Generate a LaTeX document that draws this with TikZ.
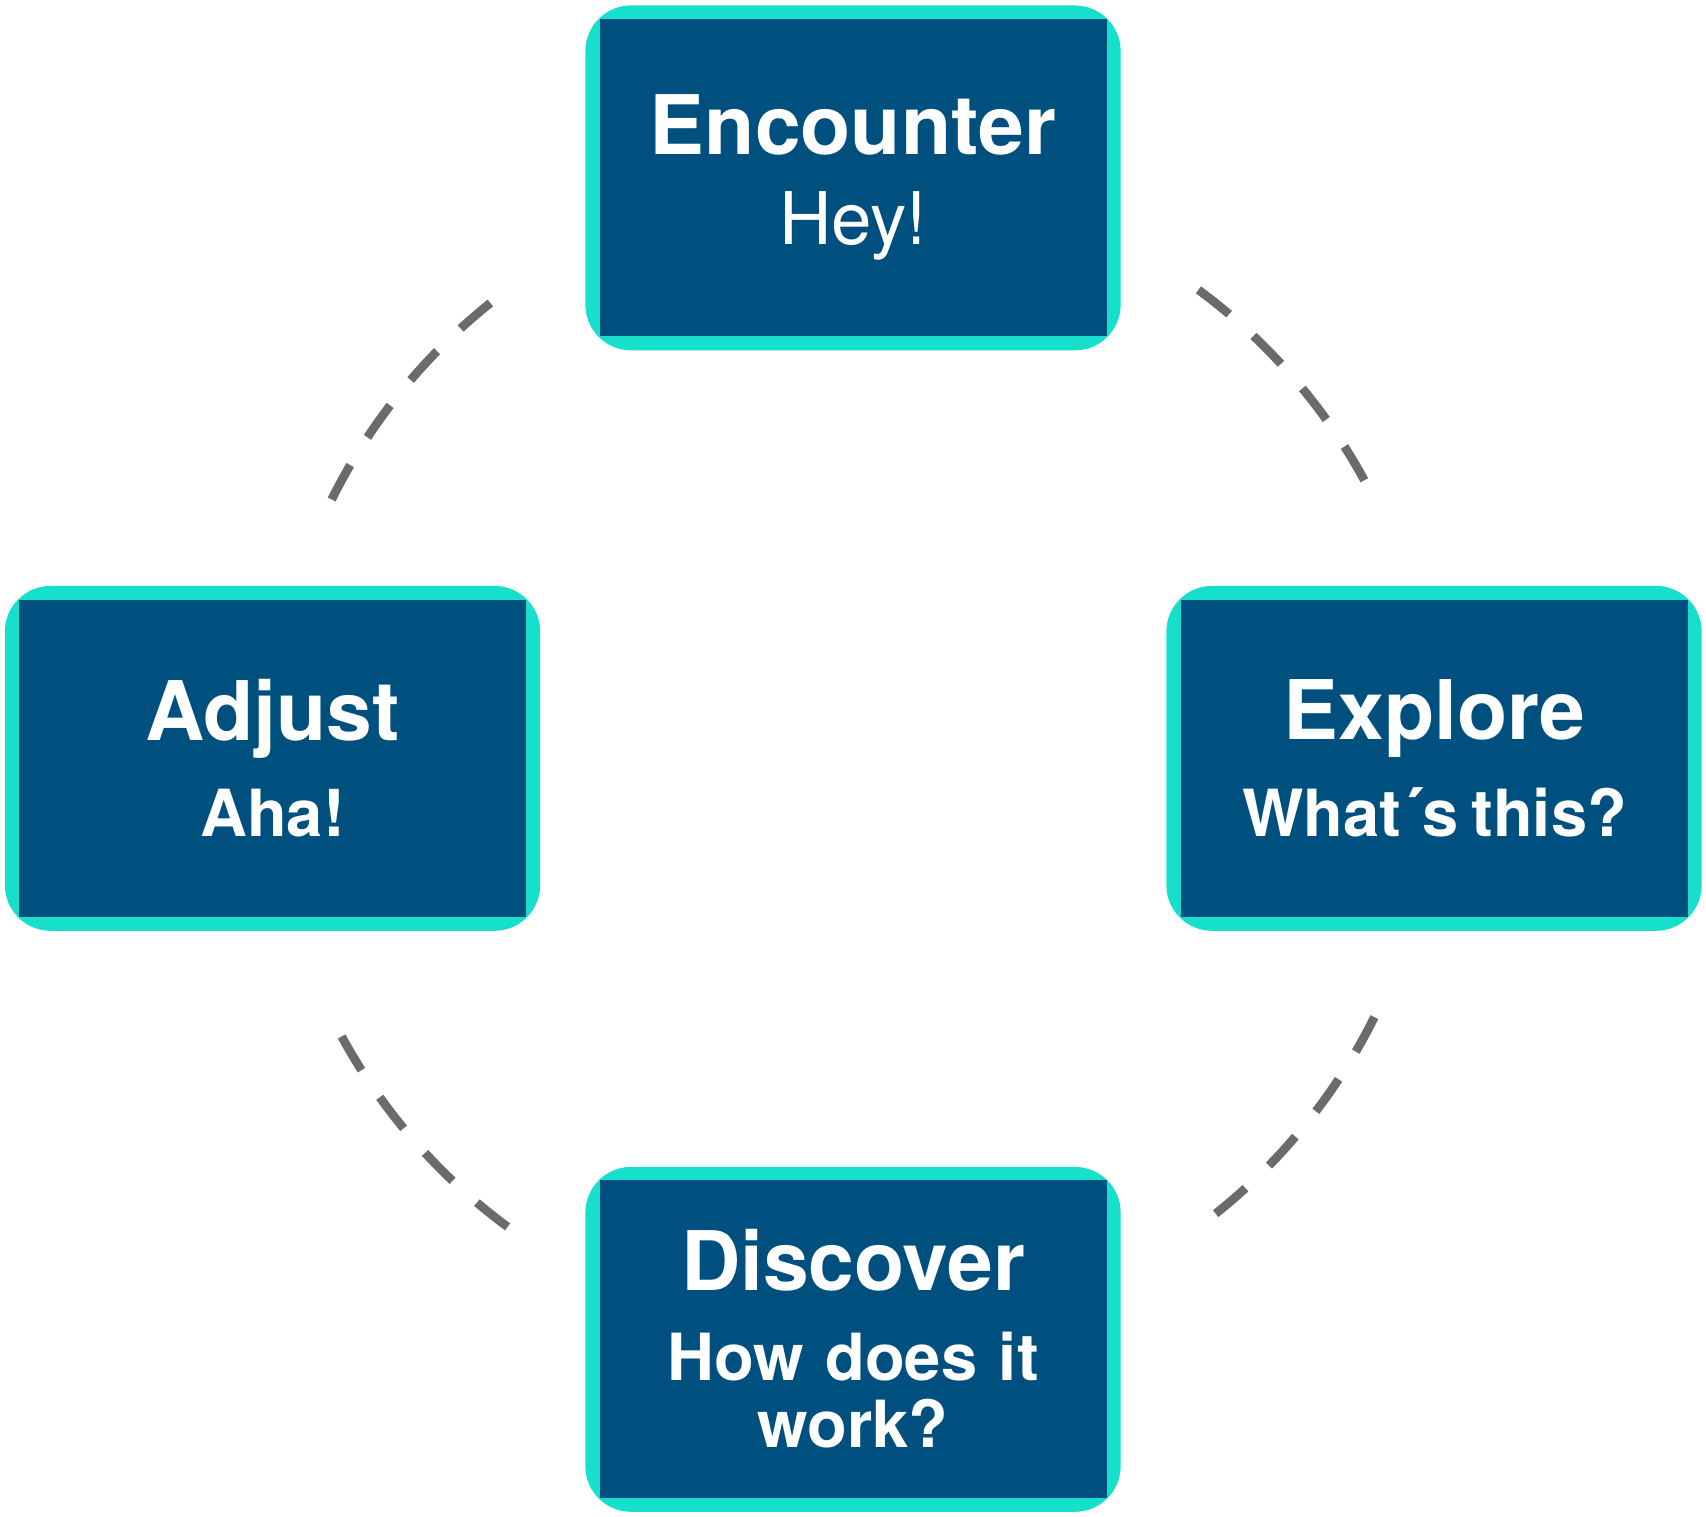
\documentclass[tikz,border=0pt]{standalone}
\usepackage{fontspec}
\setmainfont{TeX Gyre Heros}
\usetikzlibrary{positioning}
\definecolor{boxblue}{HTML}{00507F}
\definecolor{boxteal}{HTML}{16E0CC}
\definecolor{ringgray}{HTML}{6B6B6B}
\tikzset{
  glow/.style={fill=boxteal, rounded corners=0.42cm, minimum width=4.92cm, minimum height=3.17cm},
  card/.style={fill=boxblue, text=white, minimum width=4.66cm, minimum height=2.92cm, align=center, text width=4.4cm},
  ring/.style={ringgray, line width=0.08cm, dash pattern=on 0.36cm off 0.3cm}
}
\newcommand{\cardtitle}[1]{{\fontsize{21.5}{26}\selectfont\bfseries #1}}
\newcommand{\cardsub}[1]{{\fontsize{17}{18}\selectfont\bfseries #1}}
\begin{document}
\begin{tikzpicture}
\useasboundingbox (0,0) rectangle (15.68,-13.94);
\coordinate (hub) at (7.84,-6.97);

\node[glow] (encounterGlow) at (7.84,-1.635) {};
\node[card] (encounter)     at (7.84,-1.63) {\cardtitle{Encounter}\\[0.3cm]{\fontsize{19}{22}\selectfont Hey!}};
\node[glow] (adjustGlow)    at (2.505,-6.97) {};
\node[card] (adjust)        at (2.505,-6.97) {\cardtitle{Adjust}\\[0.25cm]\cardsub{Aha!}};
\node[glow] (exploreGlow)   at (13.18,-6.97) {};
\node[card] (explore)       at (13.185,-6.97) {\cardtitle{Explore}\\[0.25cm]\cardsub{What´s this?}};
\node[glow] (discoverGlow)  at (7.84,-12.31) {};
\node[card, font=\fontsize{17}{17.6}\selectfont\bfseries] (discover) at (7.84,-12.305)
  {\cardtitle{Discover}\\[0.2cm]How does it\\work?};

% dashed ring between the cards
\draw[ring] (hub) ++(53.6:5.35) arc (53.6:26.4:5.35);
\draw[ring] (hub) ++(-26.4:5.35) arc (-26.4:-53.6:5.35);
\draw[ring] (hub) ++(-126.4:5.35) arc (-126.4:-153.6:5.35);
\draw[ring] (hub) ++(153.6:5.35) arc (153.6:126.4:5.35);
\end{tikzpicture}
\end{document}
